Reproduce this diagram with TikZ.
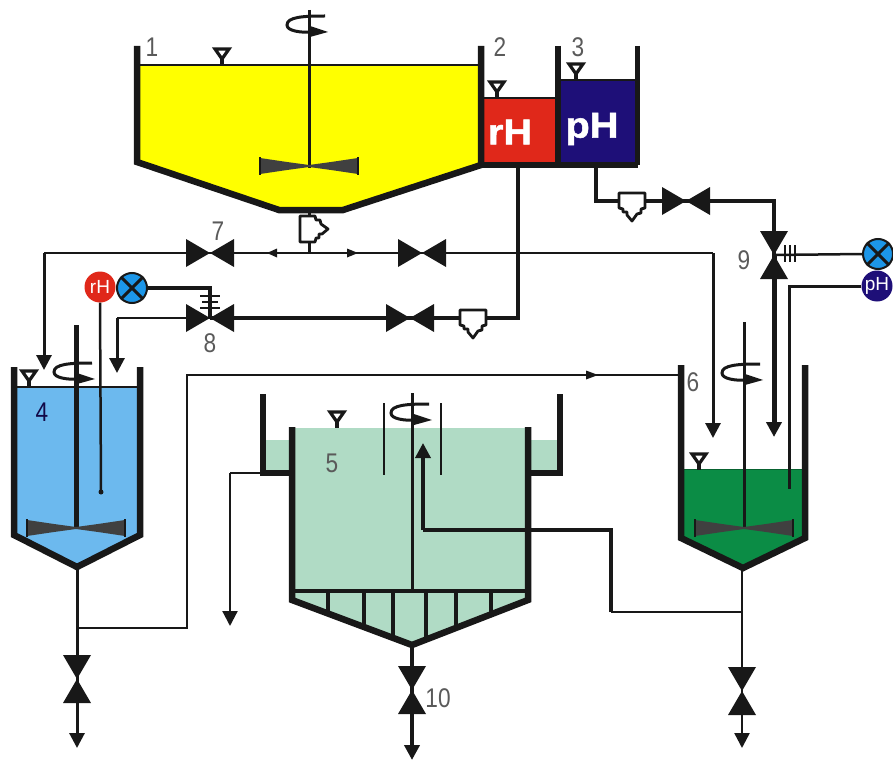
\documentclass[tikz,border=0pt]{standalone}
\usepackage{fontspec}
\setmainfont{Liberation Sans}
\newfontfamily\numfont[FakeStretch=0.84]{Liberation Sans}
\newfontfamily\wordfont[FakeStretch=1.1,FakeBold=1.5]{Liberation Sans Bold}
\usetikzlibrary{arrows.meta}
\definecolor{cyellow}{HTML}{FFFF00}
\definecolor{cred}{HTML}{E0281A}
\definecolor{cnavy}{HTML}{1E0F78}
\definecolor{cblue}{HTML}{6CB9EE}
\definecolor{cmint}{HTML}{B0DBC5}
\definecolor{cgreen}{HTML}{0B8C45}
\definecolor{cink}{HTML}{181818}
\definecolor{cblade}{HTML}{404040}
\definecolor{cxball}{HTML}{1C96E8}
\definecolor{clabel}{HTML}{5A5A5A}
\tikzset{
  wall/.style={draw=cink,line width=6.5pt,line cap=butt,line join=miter},
  pipe/.style={draw=cink,line width=#1,line join=miter},
  pipe/.default=3pt,
  tip/.style={-{Triangle[length=15pt,width=15pt]}},
  num/.style={text=clabel,font=\fontsize{27}{27}\numfont,inner sep=0pt},
  tankword/.style={text=white,font=\fontsize{36}{36}\wordfont,inner sep=0pt},
  probe/.style={circle,minimum size=31pt,inner sep=0pt,text=white,font=\fontsize{19}{19}\selectfont},
  valve/.pic={\fill[cink] (-24,-14)--(0,0)--(-24,14)--cycle (24,-14)--(0,0)--(24,14)--cycle;},
  levelmark/.pic={\draw[cink,line width=3.2pt,fill=white,line join=miter] (-7,-16)--(7,-16)--(0,-6)--cycle;
     \draw[cink,line width=3.2pt] (0,-6)--(0,0);},
  rotor/.pic={\draw[cink,line width=3pt] (16,-9) .. controls (-6,-9) and (-22,-8) .. (-22,0) .. controls (-22,6) and (-8,8) .. (4,7);
     \fill[cink] (1,1)--(19,7)--(1,12)--cycle;},
  blades/.pic={\fill[cblade] (-49,-8)--(-49,8)--(-22,4)--(0,1)--(0,-1)--(-22,-4)--cycle (49,-8)--(49,8)--(22,4)--(0,1)--(0,-1)--(22,-4)--cycle;
     \draw[cink,line width=1.5pt] (-49,-9)--(-49,9) (49,-9)--(49,9);},
  checkv/.pic={\draw[cink,line width=2.8pt,fill=white,line join=round] (-14,-13)--(1,-13)--(2,-9)--(6,-9)--(7,-5)--(14,0)--(8,5)--(5,5)--(5,9)--(2,9)--(1,13)--(-14,13)--cycle;}
}
\begin{document}
\begin{tikzpicture}[x=1pt,y=-1pt]
\useasboundingbox (0,0) rectangle (893,762);

% liquids
\fill[cyellow] (137,65)--(481,65)--(481,165)--(343,210)--(279,210)--(137,162)--cycle;
\fill[cred] (484,98) rectangle (558,165);
\fill[cnavy] (558,80) rectangle (637,165);
\fill[cblue] (14,387)--(140,387)--(140,535)--(77,567)--(14,535)--cycle;
\fill[cmint] (263,440) rectangle (292,473);
\fill[cmint] (528,440) rectangle (560,473);
\fill[cmint] (292,428)--(528,428)--(528,600)--(412,645)--(292,600)--cycle;
\fill[cgreen] (681,469)--(805,469)--(805,538)--(743,568)--(681,538)--cycle;
\draw[cink,line width=1.2pt] (137,65)--(481,65) (484,98)--(558,98) (558,80)--(637,80) (14,387)--(140,387);
\draw[cgreen!70!black,line width=1pt] (681,469)--(805,469);

% named points of the plant
\coordinate (t1out) at (309,210);
\coordinate (j1) at (309,253);
\coordinate (v7) at (210,253);
\coordinate (v7b) at (422,253);
\coordinate (c1) at (44,253);
\coordinate (in4a) at (44,370);
\coordinate (c2) at (713,253);
\coordinate (in6a) at (713,438);
\coordinate (t2out) at (518,165);
\coordinate (c3) at (518,318);
\coordinate (v8) at (210,318);
\coordinate (v8b) at (410,318);
\coordinate (c4) at (117,318);
\coordinate (in4b) at (117,373);
\coordinate (t3out) at (596,165);
\coordinate (c5) at (596,201);
\coordinate (v9b) at (686,201);
\coordinate (c6) at (774,201);
\coordinate (v9) at (774,255);
\coordinate (in6b) at (774,437);
\coordinate (t4out) at (77,567);
\coordinate (v4) at (77,679);
\coordinate (end4) at (77,748);
\coordinate (j4) at (77,628);
\coordinate (c7) at (187,628);
\coordinate (c8) at (187,375);
\coordinate (t6in) at (681,375);
\coordinate (t5over) at (263,473);
\coordinate (c9) at (230,473);
\coordinate (end5a) at (230,626);
\coordinate (t5out) at (412,645);
\coordinate (v10) at (412,690);
\coordinate (end5) at (412,760);
\coordinate (t6out) at (742,568);
\coordinate (v6) at (742,691);
\coordinate (end6) at (742,748);
\coordinate (j6) at (742,612);
\coordinate (c10) at (611,612);
\coordinate (c11) at (611,530);
\coordinate (c12) at (423,530);
\coordinate (in5) at (423,443);

% instruments
\node[probe,fill=cred] (prH) at (100,287) {rH};
\node[circle,minimum size=30pt,inner sep=0pt,draw=cink,line width=2pt,fill=cxball] (xb1) at (132,288) {};
\node[probe,fill=cnavy] (ppH) at (877,286) {pH};
\node[circle,minimum size=30pt,inner sep=0pt,draw=cink,line width=2pt,fill=cxball] (xb2) at (878,254) {};
\draw[cink,line width=3pt] (xb1.north east)--(xb1.south west) (xb1.north west)--(xb1.south east);
\draw[cink,line width=3pt] (xb2.north east)--(xb2.south west) (xb2.north west)--(xb2.south east);

% pipes
\draw[pipe=3pt,tip] (c1) -- (in4a);
\draw[pipe=2.5pt] (c1) -- (c2);
\draw[pipe=3pt,tip] (c2) -- (in6a);
\draw[pipe=3pt] (t1out) -- (j1);
\draw[pipe=4pt] (t2out) -- (c3) -- (v8);
\draw[pipe=2.5pt] (v8) -- (c4);
\draw[pipe=3pt,tip] (c4) -- (in4b);
\draw[pipe=4pt] (t3out) -- (c5) -- (c6) -- (v9);
\draw[pipe=5pt,tip] (v9) -- (in6b);
\draw[pipe=3pt] (t4out) -- (v4);
\draw[pipe=3pt,tip] (v4) -- (end4);
\draw[pipe=2.5pt] (j4) -- (c7) -- (c8) -- (t6in);
\draw[pipe=2.2pt] (t5over) -- (c9);
\draw[pipe=2.2pt,tip] (c9) -- (end5a);
\draw[pipe=4pt] (t5out) -- (v10);
\draw[pipe=4pt,tip] (v10) -- (end5);
\draw[pipe=2.5pt] (t6out) -- (v6);
\draw[pipe=2.5pt,tip] (v6) -- (end6);
\draw[pipe=2.5pt] (j6) -- (c10);
\draw[pipe=3.5pt] (c10) -- (c11) -- (c12);
\draw[pipe=3.5pt,tip] (c12) -- (in5);
\draw[pipe=3.5pt] (xb1.east) -| (v8);
\draw[pipe=2.5pt] (xb2.west) -- (v9);
\draw[pipe=3pt] (ppH.west) -- (789,286) -- (789,489);
\draw[pipe=2.5pt] (prH.south) -- (101,492);
\fill[cink] (101,492) circle (2.5);

% flow direction marks
\fill[cink] (267,253)--(277,248.5)--(277,257.5)--cycle;
\fill[cink] (358,253)--(347,248.5)--(347,257.5)--cycle;
\fill[cink] (598,375)--(586,370.5)--(586,379.5)--cycle;

% valves and check valves
\pic at (v7) {valve};
\pic at (v7b) {valve};
\pic at (v8) {valve};
\pic at (v8b) {valve};
\pic at (v9b) {valve};
\pic[rotate=90] at (v9) {valve};
\pic[rotate=90] at (v4) {valve};
\pic[rotate=90] at (v10) {valve};
\pic[rotate=90] at (v6) {valve};
\pic at (314,229) {checkv};
\pic[rotate=-90] at (632,207) {checkv};
\pic[rotate=-90] at (473,324) {checkv};
\draw[cink,line width=2.2pt] (200,296)--(220,296) (202,302)--(218,302) (200,308)--(220,308);
\draw[cink,line width=2.2pt] (785,245)--(785,262) (790,245)--(790,262) (795,245)--(795,262);

% tank 1, 2, 3
\draw[wall] (137,46)--(137,162)--(279,210)--(343,210)--(481,165)--(481,46);
\draw[wall] (481,165)--(638,165);
\draw[wall] (558,46)--(558,165);
\draw[wall,line width=5pt] (637,46)--(637,165);
\draw[cink,line width=3pt] (309,10)--(309,168);
\pic at (309,25) {rotor};
\pic at (309,166) {blades};
\pic at (222,65) {levelmark};
\pic at (497,98) {levelmark};
\pic at (576,80) {levelmark};
\node[tankword] (wrH) at (510,132) {rH};
\node[tankword] (wpH) at (592,129) {pH};

% tank 4
\draw[wall] (14,367)--(14,535)--(77,567)--(140,535)--(140,367);
\draw[cink,line width=5pt] (76,325)--(76,528);
\pic at (76,372) {rotor};
\pic at (76,528) {blades};
\pic at (29,387) {levelmark};

% tank 5
\draw[wall] (292,427)--(292,600)--(412,645)--(528,600)--(528,427);
\draw[wall] (263,394)--(263,473)--(292,473);
\draw[wall] (560,394)--(560,473)--(528,473);
\draw[cink,line width=4pt] (292,591)--(528,591);
\foreach \bx/\by in {328/613,364/627,393/638,426/640,456/628,491/614}
  \draw[cink,line width=3.5pt] (\bx,591)--(\bx,\by);
\draw[cink,line width=3pt] (412,393)--(412,591);
\draw[cink,line width=2.2pt] (384,403)--(384,475) (441,403)--(441,475);
\pic at (413,413) {rotor};
\pic at (337,428) {levelmark};

% tank 6
\draw[wall] (681,365)--(681,538)--(743,568)--(805,538)--(805,365);
\draw[cink,line width=3pt] (744,322)--(744,528);
\pic at (744,373) {rotor};
\pic at (744,528) {blades};
\pic at (699,470) {levelmark};

% labels
\node[num] (n1) at (152,47) {1};
\node[num] (n2) at (500,47) {2};
\node[num] (n3) at (578,47) {3};
\node[num,text=cnavy!60!black] (n4) at (42,412) {4};
\node[num] (n5) at (332,463) {5};
\node[num] (n6) at (693,382) {6};
\node[num] (n7) at (218,231) {7};
\node[num] (n8) at (210,343) {8};
\node[num] (n9) at (744,260) {9};
\node[num] (n10) at (438,698) {10};
\end{tikzpicture}
\end{document}
